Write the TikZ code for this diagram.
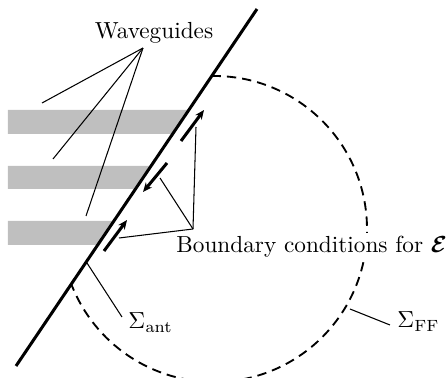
\documentclass[tikz,border=0pt]{standalone}
\usepackage{amsmath}
\usetikzlibrary{arrows.meta}
\begin{document}
\begin{tikzpicture}[x=0.43pt,y=-0.43pt,
  wall/.style={line width=1.3pt},
  bcarrow/.style={line width=1.3pt,-{Stealth[length=4pt,width=3.4pt]}},
  pointer/.style={line width=0.45pt},
  guide/.style={fill=gray!50,draw=none},
  farfield/.style={line width=0.8pt,dash pattern=on 4pt off 2.6pt},
  lbl/.style={inner sep=0pt}]
\useasboundingbox (0,0) rectangle (448,378);
\clip (0,0) rectangle (448,378);
% waveguides
\fill[guide] (8,110) -- (188.8,110) -- (172.6,134) -- (8,134) -- cycle;
\fill[guide] (8,166) -- (151.0,166) -- (135.5,189) -- (8,189) -- cycle;
\fill[guide] (8,221) -- (113.9,221) -- (97.7,245) -- (8,245) -- cycle;
% far-field boundary
\draw[farfield] (211.6,76) arc[start angle=-90.9, end angle=158.9, radius=153];
% antenna surface
\coordinate (wtop) at (257,9);
\coordinate (wbot) at (16,366);
\draw[wall] (wtop) -- (wbot);
% boundary arrows
\coordinate (a1s) at (181,141); \coordinate (a1e) at (204,110);
\coordinate (a2s) at (167,163); \coordinate (a2e) at (143,192);
\coordinate (a3s) at (104,251); \coordinate (a3e) at (127,220);
\draw[bcarrow] (a1s) -- (a1e);
\draw[bcarrow] (a2s) -- (a2e);
\draw[bcarrow] (a3s) -- (a3e);
% labels
\node[lbl] (wg) at (154,33) {Waveguides};
\coordinate (wgp) at (143,48);
\coordinate (g1) at (42,103);
\coordinate (g2) at (53,159);
\coordinate (g3) at (86,216);
\draw[pointer] (wgp) -- (g1);
\draw[pointer] (wgp) -- (g2);
\draw[pointer] (wgp) -- (g3);
\node[anchor=base west,fill=white,inner sep=1.5pt] (bc) at (172.5,253) {Boundary conditions for $\boldsymbol{\mathcal{E}}$};
\coordinate (bcp) at (193,229);
\coordinate (b1) at (196,127);
\coordinate (b2) at (160,178);
\coordinate (b3) at (119,238);
\draw[pointer] (bcp) -- (b1);
\draw[pointer] (bcp) -- (b2);
\draw[pointer] (bcp) -- (b3);
\node[lbl,anchor=base west] (sant) at (128,329) {$\Sigma_{\mathrm{ant}}$};
\coordinate (santp) at (122,317);
\coordinate (santw) at (87,263);
\draw[pointer] (santp) -- (santw);
\node[lbl,anchor=base west] (sff) at (397,328) {$\Sigma_{\mathrm{FF}}$};
\coordinate (sffp) at (390,325);
\coordinate (sffc) at (350,309);
\draw[pointer] (sffp) -- (sffc);
\end{tikzpicture}
\end{document}
